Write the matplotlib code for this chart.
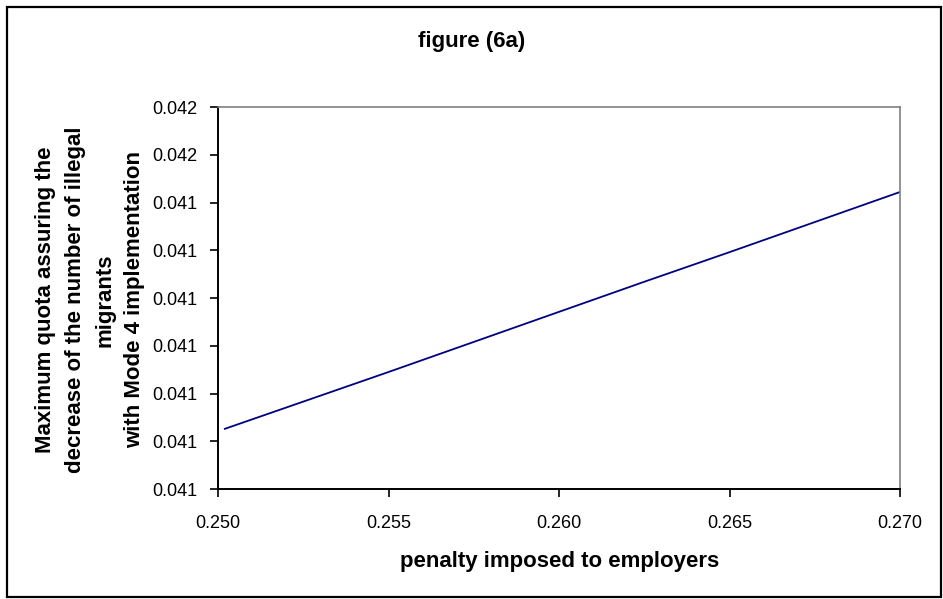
import matplotlib
matplotlib.use("Agg")
import matplotlib.pyplot as plt
from matplotlib.patches import Rectangle
from matplotlib.ticker import FixedLocator, FixedFormatter

# values
penalty = [0.2502, 0.2525, 0.255, 0.2575, 0.260, 0.2625, 0.265, 0.2675, 0.270]
max_quota = [0.040926, 0.040983, 0.041045, 0.041108, 0.041171,
             0.041234, 0.041296, 0.041359, 0.041422]

x_ticks = [0.250, 0.255, 0.260, 0.265, 0.270]
x_tick_labels = ["0.250", "0.255", "0.260", "0.265", "0.270"]
y_ticks = [0.0408, 0.0409, 0.0410, 0.0411, 0.0412, 0.0413, 0.0414, 0.0415, 0.0416]
y_tick_labels = ["0.041", "0.041", "0.041", "0.041", "0.041",
                 "0.041", "0.041", "0.042", "0.042"]

title = "figure (6a)"
x_label = "penalty imposed to employers"
y_label = ("Maximum quota assuring the\ndecrease of the number of illegal\n"
           "migrants\nwith Mode 4 implementation")

plt.rcParams['font.family'] = ['Liberation Sans', 'DejaVu Sans']

W, H = 943, 599
fig = plt.figure(figsize=(W / 100, H / 100), dpi=100)

# outer chart border
fig.patches.append(Rectangle((7 / W, 2 / H), 934 / W, 590 / H,
                             transform=fig.transFigure, fill=False,
                             edgecolor='black', linewidth=1.6))

ax = fig.add_axes([218 / W, 1 - 489 / H, 682 / W, 382 / H])
ax.plot(penalty, max_quota, color='#000080', linewidth=1.3)

ax.set_xlim(0.250, 0.270)
ax.set_ylim(0.0408, 0.0416)
ax.xaxis.set_major_locator(FixedLocator(x_ticks))
ax.xaxis.set_major_formatter(FixedFormatter(x_tick_labels))
ax.yaxis.set_major_locator(FixedLocator(y_ticks))
ax.yaxis.set_major_formatter(FixedFormatter(y_tick_labels))

ax.tick_params(axis='both', direction='out', length=6, width=1.2,
               labelsize=13, colors='black')
ax.tick_params(axis='x', pad=13)
ax.tick_params(axis='y', pad=9)

for side in ['left', 'bottom']:
    ax.spines[side].set_color('black')
    ax.spines[side].set_linewidth(1.4)
for side in ['top', 'right']:
    ax.spines[side].set_color('#808080')
    ax.spines[side].set_linewidth(1.2)

fig.text(472 / W, 1 - 41 / H, title, ha='center', va='center',
         fontsize=16, fontweight='bold')
fig.text(560 / W, 1 - 561 / H, x_label, ha='center', va='center',
         fontsize=16, fontweight='bold')
fig.text(90 / W, 1 - 300 / H, y_label, ha='center', va='center',
         rotation=90, multialignment='center', linespacing=1.55,
         fontsize=16, fontweight='bold')

fig.savefig("out.png", dpi=100)
